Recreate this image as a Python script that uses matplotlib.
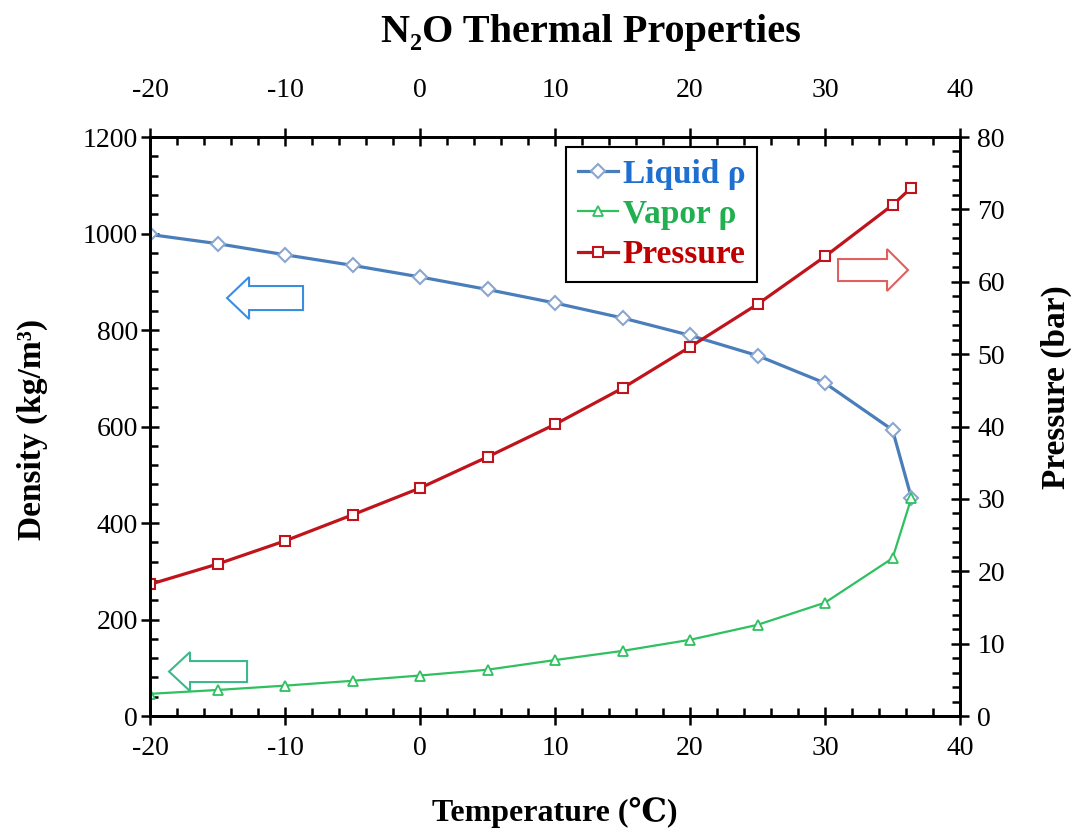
import matplotlib
matplotlib.use("Agg")
import matplotlib.pyplot as plt
from matplotlib.ticker import MultipleLocator
from matplotlib.patches import FancyArrow

# temperature (C)
temp = [-20, -15, -10, -5, 0, 5, 10, 15, 20, 25, 30, 35, 36.4]
# densities (kg/m3)
liquid_rho = [998, 979, 956, 934, 910, 884, 856, 825, 789, 747, 690, 593, 452]
vapor_rho = [46, 54, 63, 73, 84, 96, 116, 135, 158, 189, 235, 327, 452]
# vapour pressure (bar)
pressure = [18.2, 21.0, 24.2, 27.8, 31.5, 35.8, 40.3, 45.3, 51.0, 56.9, 63.5, 70.6, 73.0]

serif = ['Liberation Serif', 'DejaVu Serif']
plt.rcParams['font.family'] = serif
plt.rcParams['axes.unicode_minus'] = False

fig = plt.figure(figsize=(10.8, 8.36), dpi=100)
ax = fig.add_axes([0.1389, 0.1435, 0.75, 0.6926])
ax2 = ax.twinx()
top = ax.twiny()

l1, = ax.plot(temp, liquid_rho, color='#4a7ebb', lw=2.3, marker='D', ms=7.5,
              mfc='white', mec='#8aa6cf', mew=1.5, label='Liquid ρ')
l2, = ax.plot(temp, vapor_rho, color='#2fc060', lw=1.6, marker='^', ms=7.5,
              mfc='white', mec='#2fc060', mew=1.3, label='Vapor ρ')
l3, = ax2.plot(temp, pressure, color='#c0141c', lw=2.3, marker='s', ms=7.5,
               mfc='white', mec='#c0141c', mew=1.5, label='Pressure')

ax.set_xlim(-20, 40)
top.set_xlim(-20, 40)
ax.set_ylim(0, 1200)
ax2.set_ylim(0, 80)
for xa in (ax.xaxis, top.xaxis):
    xa.set_major_locator(MultipleLocator(10))
    xa.set_minor_locator(MultipleLocator(2))
ax.yaxis.set_major_locator(MultipleLocator(200))
ax.yaxis.set_minor_locator(MultipleLocator(40))
ax2.yaxis.set_major_locator(MultipleLocator(10))
ax2.yaxis.set_minor_locator(MultipleLocator(2))

for a in (ax, ax2, top):
    for s in a.spines.values():
        s.set_linewidth(1.8)
    a.tick_params(which='major', direction='inout', length=13, width=1.8, labelsize=20)
    a.tick_params(which='minor', direction='in', length=6, width=1.8)
ax.tick_params(axis='x', which='both', top=False, pad=8)
top.tick_params(axis='x', which='both', pad=18)
top.tick_params(axis='y', which='both', left=False, right=False, labelleft=False, labelright=False)
ax.tick_params(axis='y', which='both', right=False, pad=2)
ax2.tick_params(axis='y', which='both', pad=6)

ax.set_xlabel('Temperature (℃)', fontsize=23, fontweight='bold')
ax.xaxis.set_label_coords(0.5, -0.14)
ax.set_ylabel('Density (kg/m³)', fontsize=24, fontweight='bold')
ax.yaxis.set_label_coords(-0.126, 0.495)
ax2.set_ylabel('Pressure (bar)', fontsize=24, fontweight='bold')
ax2.yaxis.set_label_coords(1.1, 0.568)
fig.suptitle('N₂O Thermal Properties', fontsize=29, fontweight='bold', x=0.547, y=0.983)

# hollow direction arrows
ax.add_patch(FancyArrow(0.1889, 0.7219, -0.0938, 0, width=0.0415, head_width=0.0725,
                        head_length=0.0272, length_includes_head=True, fill=False,
                        ec='#3a8ee0', lw=1.5, transform=ax.transAxes))
ax.add_patch(FancyArrow(0.1198, 0.0768, -0.0963, 0, width=0.0363, head_width=0.0674,
                        head_length=0.0259, length_includes_head=True, fill=False,
                        ec='#3cb88a', lw=1.5, transform=ax.transAxes))
ax.add_patch(FancyArrow(0.8494, 0.7703, 0.0864, 0, width=0.038, head_width=0.0725,
                        head_length=0.0259, length_includes_head=True, fill=False,
                        ec='#e06060', lw=1.5, transform=ax.transAxes))

leg = top.legend(handles=[l1, l2, l3], loc='upper left', bbox_to_anchor=(0.5136, 0.983),
                 borderaxespad=0, fancybox=False, edgecolor='black', framealpha=1,
                 handlelength=1.2, handletextpad=0.15, labelspacing=0.28,
                 borderpad=0.35, prop={'family': serif, 'weight': 'bold', 'size': 24})
leg.get_frame().set_linewidth(1.5)
for t, c in zip(leg.get_texts(), ['#1f6fd0', '#20b050', '#c00000']):
    t.set_color(c)

fig.savefig('out.png', dpi=100)
